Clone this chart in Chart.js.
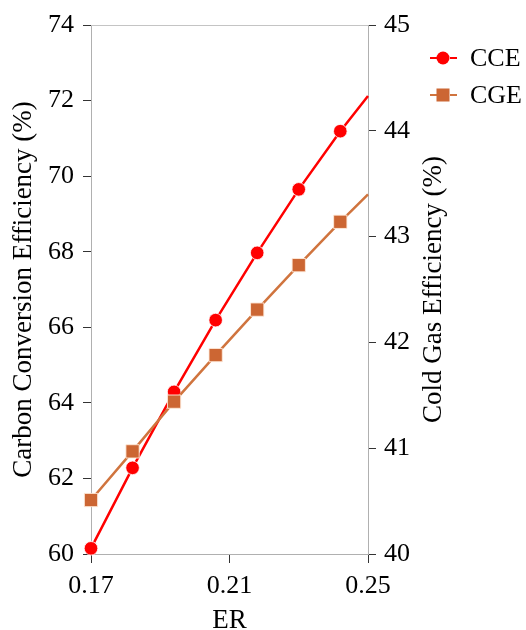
<!DOCTYPE html>
<html>
<head>
<meta charset="utf-8">
<script src="https://cdn.jsdelivr.net/npm/chart.js@4.4.1/dist/chart.umd.min.js"></script>
<style>
  html, body { margin: 0; padding: 0; background: #fff; }
</style>
</head>
<body>
<canvas id="myChart" width="526" height="630"></canvas>
<script>
// values
const er = [0.17, 0.182, 0.194, 0.206, 0.218, 0.230, 0.242, 0.25];
const cce = [60.15, 62.28, 64.29, 66.19, 67.97, 69.65, 71.19, 72.12];
const cge = [40.51, 40.97, 41.44, 41.88, 42.31, 42.73, 43.14, 43.40];
const xTicks = [0.17, 0.21, 0.25];
const leftTicks = [60, 62, 64, 66, 68, 70, 72, 74];
const rightTicks = [40, 41, 42, 43, 44, 45];
const rightTitle = 'Cold Gas Efficiency (%)';

const FONT = "'Liberation Serif', 'Times New Roman', serif";
const lastIdx = er.length - 1;

function pts(ys) {
  return er.map((x, i) => ({ x: x, y: ys[i] }));
}

function fixTicks(list) {
  return function (scale) {
    scale.ticks = list.map(v => ({ value: v }));
  };
}

// top edge of the frame + right axis title (reads bottom to top, like the left one)
const frame = {
  id: 'frame',
  afterDraw(chart) {
    const a = chart.chartArea, ctx = chart.ctx;
    ctx.save();
    ctx.strokeStyle = '#c4c4c4';
    ctx.lineWidth = 1;
    ctx.beginPath();
    ctx.moveTo(a.left, Math.round(a.top) + 0.5);
    ctx.lineTo(a.right, Math.round(a.top) + 0.5);
    ctx.stroke();

    ctx.translate(433.5, (a.top + a.bottom) / 2);
    ctx.rotate(-Math.PI / 2);
    ctx.fillStyle = '#000';
    ctx.font = '27px ' + FONT;
    ctx.textAlign = 'center';
    ctx.textBaseline = 'middle';
    ctx.fillText(rightTitle, 0, 0);
    ctx.restore();
  }
};

// legend on the right, "-o- label"
const sideLegend = {
  id: 'sideLegend',
  afterDraw(chart) {
    const ctx = chart.ctx;
    chart.data.datasets.forEach((ds, i) => {
      const y = 58 + i * 37;
      const x = 443;
      ctx.save();
      ctx.strokeStyle = ds.borderColor;
      ctx.lineWidth = 2;
      ctx.setLineDash([7, 13]);
      ctx.beginPath();
      ctx.moveTo(430, y);
      ctx.lineTo(457, y);
      ctx.stroke();
      ctx.setLineDash([]);
      ctx.fillStyle = ds.pointBackgroundColor;
      if (ds.pointStyle === 'rect') {
        ctx.fillRect(x - 6.5, y - 6.5, 13, 13);
      } else {
        ctx.beginPath();
        ctx.arc(x, y, 6.5, 0, Math.PI * 2);
        ctx.fill();
      }
      ctx.fillStyle = '#000';
      ctx.font = '26px ' + FONT;
      ctx.textBaseline = 'middle';
      ctx.textAlign = 'left';
      ctx.fillText(ds.label, 470, y + 1);
      ctx.restore();
    });
  }
};

const tickFont = { family: FONT, size: 26 };
const titleFont = { family: FONT, size: 27, lineHeight: 1 };

new Chart('myChart', {
  type: 'line',
  data: {
    datasets: [
      {
        label: 'CCE',
        data: pts(cce),
        yAxisID: 'y',
        borderColor: '#ff0000',
        backgroundColor: '#ff0000',
        pointBackgroundColor: '#ff0000',
        pointBorderColor: 'rgba(255,255,255,0.8)',
        pointBorderWidth: 1,
        pointStyle: 'circle',
        pointRadius: ctx => ctx.dataIndex === lastIdx ? 0 : 6.8,
        borderWidth: 2.5,
        tension: 0,
        clip: false,
        order: 1
      },
      {
        label: 'CGE',
        data: pts(cge),
        yAxisID: 'y2',
        borderColor: '#d0743e',
        backgroundColor: '#cc6633',
        pointBackgroundColor: '#cc6633',
        pointBorderColor: 'rgba(255,235,220,0.9)',
        pointBorderWidth: 1,
        pointStyle: 'rect',
        pointRadius: ctx => ctx.dataIndex === lastIdx ? 0 : 9.4,
        borderWidth: 2.5,
        tension: 0,
        clip: false,
        order: 0
      }
    ]
  },
  options: {
    responsive: false,
    animation: false,
    devicePixelRatio: 1,
    layout: { padding: { top: 25, left: 0, right: 0, bottom: 0 } },
    plugins: { legend: { display: false }, tooltip: { enabled: false } },
    scales: {
      x: {
        type: 'linear',
        position: 'bottom',
        min: 0.17,
        max: 0.25,
        afterBuildTicks: fixTicks(xTicks),
        afterFit: s => { s.height = 76; },
        grid: { drawOnChartArea: false, drawTicks: true, tickLength: 9, color: '#333' },
        border: { color: '#b0b0b0', width: 1 },
        ticks: { font: tickFont, color: '#000', padding: 8, maxRotation: 0,
                 callback: v => v.toFixed(2) },
        title: { display: true, text: 'ER', font: titleFont, color: '#000',
                 padding: { top: 0, bottom: -4 } }
      },
      y: {
        type: 'linear',
        position: 'left',
        min: 60,
        max: 74,
        afterBuildTicks: fixTicks(leftTicks),
        afterFit: s => { s.width = 91; },
        grid: { drawOnChartArea: false, drawTicks: true, tickLength: 8, color: '#333' },
        border: { color: '#b0b0b0', width: 1 },
        ticks: { font: tickFont, color: '#000', padding: 9 },
        title: { display: true, text: 'Carbon Conversion Efficiency (%)', font: titleFont,
                 color: '#000', padding: { top: 10, bottom: 0 } }
      },
      y2: {
        type: 'linear',
        position: 'right',
        min: 40,
        max: 45,
        afterBuildTicks: fixTicks(rightTicks),
        afterFit: s => { s.width = 158; },
        grid: { drawOnChartArea: false, drawTicks: true, tickLength: 8, color: '#333' },
        border: { color: '#b0b0b0', width: 1 },
        ticks: { font: tickFont, color: '#000', padding: 8 },
        title: { display: false }
      }
    }
  },
  plugins: [frame, sideLegend]
});
</script>
</body>
</html>
